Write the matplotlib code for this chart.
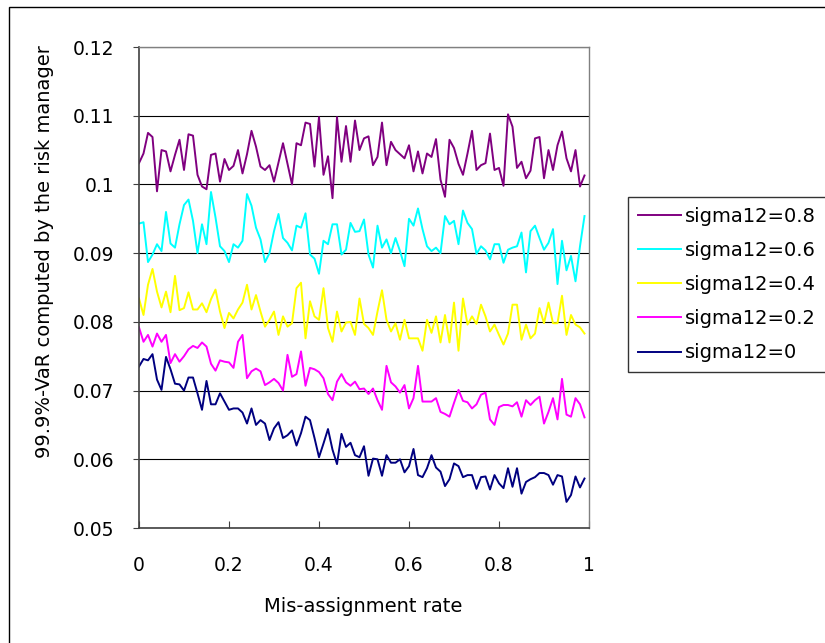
import numpy as np
import matplotlib
matplotlib.use('Agg')
import matplotlib.pyplot as plt
from matplotlib.patches import Rectangle

# DATOS
x = np.arange(100) / 100

sigma_08 = [0.1031, 0.1045, 0.1075, 0.1069, 0.0990, 0.1050, 0.1048, 0.1019, 0.1043, 0.1065,
            0.1021, 0.1073, 0.1071, 0.1014, 0.0997, 0.0993, 0.1043, 0.1045, 0.1004, 0.1037,
            0.1021, 0.1027, 0.1050, 0.1016, 0.1044, 0.1078, 0.1055, 0.1026, 0.1021, 0.1028,
            0.1004, 0.1032, 0.1060, 0.1030, 0.1000, 0.1060, 0.1057, 0.1090, 0.1088, 0.1026,
            0.1098, 0.1014, 0.1041, 0.0980, 0.1098, 0.1033, 0.1085, 0.1033, 0.1093, 0.1050,
            0.1067, 0.1070, 0.1028, 0.1040, 0.1090, 0.1028, 0.1062, 0.1050, 0.1044, 0.1038,
            0.1057, 0.1019, 0.1048, 0.1016, 0.1045, 0.1040, 0.1066, 0.1007, 0.0982, 0.1065,
            0.1053, 0.1030, 0.1014, 0.1045, 0.1078, 0.1021, 0.1028, 0.1031, 0.1074, 0.1021,
            0.1024, 0.0998, 0.1102, 0.1084, 0.1024, 0.1033, 0.1009, 0.1020, 0.1067, 0.1069,
            0.1009, 0.1050, 0.1021, 0.1057, 0.1077, 0.1038, 0.1019, 0.1050, 0.0997, 0.1013]

sigma_06 = [0.0943, 0.0945, 0.0887, 0.0898, 0.0913, 0.0903, 0.0960, 0.0914, 0.0908, 0.0942,
            0.0970, 0.0978, 0.0947, 0.0900, 0.0942, 0.0913, 0.0989, 0.0952, 0.0910, 0.0903,
            0.0887, 0.0913, 0.0908, 0.0918, 0.0986, 0.0969, 0.0937, 0.0920, 0.0887, 0.0900,
            0.0932, 0.0957, 0.0922, 0.0915, 0.0904, 0.0940, 0.0937, 0.0958, 0.0898, 0.0892,
            0.0870, 0.0918, 0.0913, 0.0942, 0.0942, 0.0898, 0.0905, 0.0944, 0.0931, 0.0932,
            0.0949, 0.0898, 0.0879, 0.0940, 0.0908, 0.0920, 0.0900, 0.0922, 0.0903, 0.0881,
            0.0950, 0.0940, 0.0965, 0.0935, 0.0910, 0.0903, 0.0908, 0.0900, 0.0954, 0.0942,
            0.0947, 0.0913, 0.0962, 0.0944, 0.0935, 0.0899, 0.0910, 0.0904, 0.0891, 0.0913,
            0.0913, 0.0886, 0.0905, 0.0908, 0.0910, 0.0930, 0.0872, 0.0932, 0.0940, 0.0922,
            0.0905, 0.0915, 0.0935, 0.0855, 0.0918, 0.0875, 0.0896, 0.0859, 0.0910, 0.0954]

sigma_04 = [0.0834, 0.0810, 0.0854, 0.0877, 0.0844, 0.0821, 0.0844, 0.0814, 0.0867, 0.0817,
            0.0820, 0.0843, 0.0818, 0.0818, 0.0827, 0.0814, 0.0833, 0.0847, 0.0815, 0.0791,
            0.0813, 0.0805, 0.0818, 0.0828, 0.0854, 0.0818, 0.0839, 0.0815, 0.0793, 0.0803,
            0.0815, 0.0781, 0.0808, 0.0793, 0.0798, 0.0849, 0.0857, 0.0776, 0.0830, 0.0808,
            0.0803, 0.0849, 0.0791, 0.0771, 0.0815, 0.0786, 0.0799, 0.0800, 0.0781, 0.0834,
            0.0797, 0.0791, 0.0781, 0.0815, 0.0846, 0.0803, 0.0786, 0.0798, 0.0774, 0.0803,
            0.0776, 0.0776, 0.0776, 0.0758, 0.0803, 0.0784, 0.0808, 0.0770, 0.0810, 0.0770,
            0.0828, 0.0758, 0.0834, 0.0796, 0.0808, 0.0797, 0.0825, 0.0808, 0.0786, 0.0796,
            0.0781, 0.0767, 0.0783, 0.0825, 0.0825, 0.0774, 0.0796, 0.0776, 0.0783, 0.0820,
            0.0798, 0.0828, 0.0798, 0.0798, 0.0838, 0.0781, 0.0810, 0.0796, 0.0792, 0.0783]

sigma_02 = [0.0792, 0.0771, 0.0781, 0.0764, 0.0783, 0.0771, 0.0781, 0.0740, 0.0753, 0.0742,
            0.0750, 0.0760, 0.0765, 0.0762, 0.0770, 0.0764, 0.0739, 0.0729, 0.0744, 0.0742,
            0.0741, 0.0733, 0.0771, 0.0781, 0.0718, 0.0728, 0.0732, 0.0728, 0.0708, 0.0712,
            0.0717, 0.0711, 0.0700, 0.0752, 0.0720, 0.0724, 0.0757, 0.0707, 0.0733, 0.0731,
            0.0727, 0.0718, 0.0695, 0.0686, 0.0713, 0.0724, 0.0712, 0.0707, 0.0713, 0.0702,
            0.0703, 0.0695, 0.0703, 0.0686, 0.0672, 0.0736, 0.0712, 0.0706, 0.0697, 0.0708,
            0.0674, 0.0689, 0.0736, 0.0684, 0.0684, 0.0684, 0.0689, 0.0669, 0.0666, 0.0662,
            0.0682, 0.0701, 0.0685, 0.0683, 0.0674, 0.0680, 0.0694, 0.0697, 0.0658, 0.0650,
            0.0676, 0.0679, 0.0679, 0.0677, 0.0683, 0.0662, 0.0686, 0.0679, 0.0686, 0.0691,
            0.0652, 0.0669, 0.0689, 0.0658, 0.0717, 0.0665, 0.0662, 0.0689, 0.0680, 0.0661]

sigma_0 = [0.0735, 0.0746, 0.0744, 0.0753, 0.0716, 0.0701, 0.0749, 0.0731, 0.0710, 0.0709,
           0.0700, 0.0719, 0.0719, 0.0696, 0.0672, 0.0714, 0.0680, 0.0680, 0.0696, 0.0684,
           0.0672, 0.0674, 0.0674, 0.0668, 0.0652, 0.0674, 0.0650, 0.0657, 0.0652, 0.0628,
           0.0645, 0.0654, 0.0631, 0.0635, 0.0642, 0.0620, 0.0638, 0.0662, 0.0657, 0.0631,
           0.0603, 0.0623, 0.0644, 0.0614, 0.0593, 0.0637, 0.0618, 0.0624, 0.0606, 0.0603,
           0.0619, 0.0576, 0.0601, 0.0600, 0.0576, 0.0606, 0.0595, 0.0595, 0.0600, 0.0581,
           0.0590, 0.0615, 0.0577, 0.0574, 0.0587, 0.0606, 0.0588, 0.0582, 0.0561, 0.0571,
           0.0594, 0.0590, 0.0574, 0.0577, 0.0577, 0.0557, 0.0574, 0.0575, 0.0556, 0.0577,
           0.0565, 0.0558, 0.0587, 0.0560, 0.0587, 0.0550, 0.0567, 0.0571, 0.0574, 0.0580,
           0.0580, 0.0577, 0.0563, 0.0577, 0.0575, 0.0538, 0.0548, 0.0575, 0.0559, 0.0572]

series = [sigma_08, sigma_06, sigma_04, sigma_02, sigma_0]
labels = ['sigma12=0.8', 'sigma12=0.6', 'sigma12=0.4', 'sigma12=0.2', 'sigma12=0']
colores = ['#800080', '#00FFFF', '#FFFF00', '#FF00FF', '#000080']

x_ticks = [0, 0.2, 0.4, 0.6, 0.8, 1]
x_ticklabels = ['0', '0.2', '0.4', '0.6', '0.8', '1']
y_ticks = [0.05, 0.06, 0.07, 0.08, 0.09, 0.10, 0.11, 0.12]
y_ticklabels = ['0.05', '0.06', '0.07', '0.08', '0.09', '0.1', '0.11', '0.12']

# VISUALIZACION
plt.rcParams['font.family'] = 'DejaVu Sans'
W, H = 825, 643
fig = plt.figure(figsize=(W / 100, H / 100), dpi=100)
ax = fig.add_axes([139 / W, 1 - 528 / H, (589 - 139) / W, (528 - 47) / H])

for ys, lab, c in zip(series, labels, colores):
    ax.plot(x, ys, color=c, lw=1.4, label=lab)

ax.set_xlim(0, 1)
ax.set_ylim(0.05, 0.12)
ax.set_xticks(x_ticks)
ax.set_xticklabels(x_ticklabels, fontsize=13.5)
ax.set_yticks(y_ticks)
ax.set_yticklabels(y_ticklabels, fontsize=13.5)
ax.tick_params(axis='x', direction='in', length=5, pad=20, color='#404040')
ax.tick_params(axis='y', direction='out', length=4, pad=14, color='#404040')
ax.grid(axis='y', color='black', lw=0.8)
ax.set_axisbelow(True)
for s in ['top', 'right']:
    ax.spines[s].set_color('#808080')
    ax.spines[s].set_linewidth(1.0)
for s in ['left', 'bottom']:
    ax.spines[s].set_color('#404040')
    ax.spines[s].set_linewidth(1.2)

fig.text(363 / W, 1 - 607 / H, 'Mis-assignment rate', ha='center', va='center', fontsize=14)
fig.text(45 / W, 1 - 252 / H, '99.9%-VaR computed by the risk manager',
         ha='center', va='center', rotation=90, fontsize=14)

# marco del area del grafico
fig.patches.append(Rectangle((9 / W, -0.1), 1.2, 1.1 - 7 / H, transform=fig.transFigure,
                             fill=False, edgecolor='black', lw=1.0))

leg = fig.legend(loc='upper left', bbox_to_anchor=(628 / W, 1 - 197 / H), fontsize=14,
                 frameon=True, fancybox=False, shadow=False, borderaxespad=0,
                 handlelength=2.2, handletextpad=0.25, labelspacing=0.78, borderpad=0.5)
leg.get_frame().set_edgecolor('black')
leg.get_frame().set_linewidth(1.0)
for l in leg.get_lines():
    l.set_linewidth(1.4)

fig.savefig('out.png', dpi=100)
